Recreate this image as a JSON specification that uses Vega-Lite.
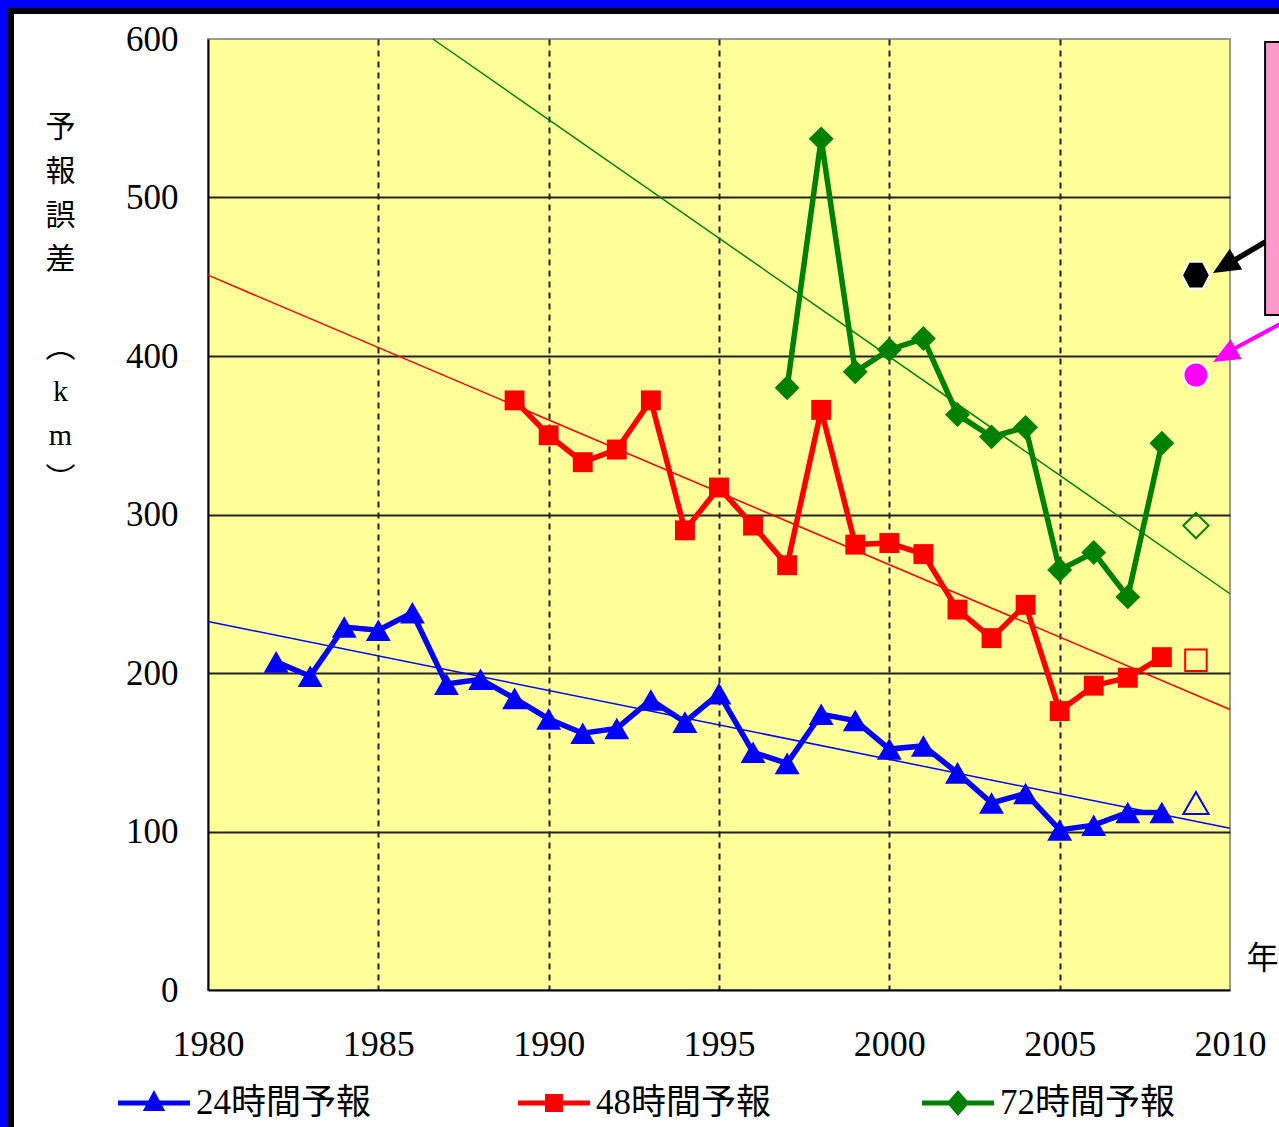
{
  "$schema": "https://vega.github.io/schema/vega-lite/v6.json",
  "width": 1022,
  "height": 951,
  "autosize": {"type": "none"},
  "padding": {"left": 208, "top": 39, "right": 49, "bottom": 137},
  "background": "white",
  "config": {
    "view": {"fill": "#FFFF99", "stroke": "#999999", "strokeWidth": 2},
    "legend": {
      "orient": "none",
      "legendY": 1028,
      "title": null,
      "padding": 0,
      "labelFont": "'Liberation Serif', 'Noto Sans CJK JP'",
      "labelFontSize": 35,
      "labelColor": "#000000",
      "labelOffset": 6,
      "labelLimit": 0,
      "symbolSize": 5184,
      "symbolStrokeWidth": 0,
      "symbolOpacity": 1
    }
  },
  "datasets": {
    "obs": [
      {"year": 1982, "value": 207, "series": "24時間予報"},
      {"year": 1983, "value": 198, "series": "24時間予報"},
      {"year": 1984, "value": 229, "series": "24時間予報"},
      {"year": 1985, "value": 227, "series": "24時間予報"},
      {"year": 1986, "value": 238, "series": "24時間予報"},
      {"year": 1987, "value": 193, "series": "24時間予報"},
      {"year": 1988, "value": 196, "series": "24時間予報"},
      {"year": 1989, "value": 184, "series": "24時間予報"},
      {"year": 1990, "value": 171, "series": "24時間予報"},
      {"year": 1991, "value": 162, "series": "24時間予報"},
      {"year": 1992, "value": 165, "series": "24時間予報"},
      {"year": 1993, "value": 183, "series": "24時間予報"},
      {"year": 1994, "value": 169, "series": "24時間予報"},
      {"year": 1995, "value": 187, "series": "24時間予報"},
      {"year": 1996, "value": 150, "series": "24時間予報"},
      {"year": 1997, "value": 143, "series": "24時間予報"},
      {"year": 1998, "value": 174, "series": "24時間予報"},
      {"year": 1999, "value": 170, "series": "24時間予報"},
      {"year": 2000, "value": 152, "series": "24時間予報"},
      {"year": 2001, "value": 154, "series": "24時間予報"},
      {"year": 2002, "value": 137, "series": "24時間予報"},
      {"year": 2003, "value": 118, "series": "24時間予報"},
      {"year": 2004, "value": 124, "series": "24時間予報"},
      {"year": 2005, "value": 101, "series": "24時間予報"},
      {"year": 2006, "value": 104, "series": "24時間予報"},
      {"year": 2007, "value": 112, "series": "24時間予報"},
      {"year": 2008, "value": 112, "series": "24時間予報"},
      {"year": 1989, "value": 372, "series": "48時間予報"},
      {"year": 1990, "value": 350, "series": "48時間予報"},
      {"year": 1991, "value": 333, "series": "48時間予報"},
      {"year": 1992, "value": 341, "series": "48時間予報"},
      {"year": 1993, "value": 372, "series": "48時間予報"},
      {"year": 1994, "value": 290, "series": "48時間予報"},
      {"year": 1995, "value": 317, "series": "48時間予報"},
      {"year": 1996, "value": 293, "series": "48時間予報"},
      {"year": 1997, "value": 268, "series": "48時間予報"},
      {"year": 1998, "value": 366, "series": "48時間予報"},
      {"year": 1999, "value": 281, "series": "48時間予報"},
      {"year": 2000, "value": 282, "series": "48時間予報"},
      {"year": 2001, "value": 275, "series": "48時間予報"},
      {"year": 2002, "value": 240, "series": "48時間予報"},
      {"year": 2003, "value": 222, "series": "48時間予報"},
      {"year": 2004, "value": 243, "series": "48時間予報"},
      {"year": 2005, "value": 176, "series": "48時間予報"},
      {"year": 2006, "value": 192, "series": "48時間予報"},
      {"year": 2007, "value": 197, "series": "48時間予報"},
      {"year": 2008, "value": 210, "series": "48時間予報"},
      {"year": 1997, "value": 380, "series": "72時間予報"},
      {"year": 1998, "value": 537, "series": "72時間予報"},
      {"year": 1999, "value": 390, "series": "72時間予報"},
      {"year": 2000, "value": 404, "series": "72時間予報"},
      {"year": 2001, "value": 411, "series": "72時間予報"},
      {"year": 2002, "value": 363, "series": "72時間予報"},
      {"year": 2003, "value": 349, "series": "72時間予報"},
      {"year": 2004, "value": 355, "series": "72時間予報"},
      {"year": 2005, "value": 265, "series": "72時間予報"},
      {"year": 2006, "value": 276, "series": "72時間予報"},
      {"year": 2007, "value": 248, "series": "72時間予報"},
      {"year": 2008, "value": 345, "series": "72時間予報"}
    ],
    "trend": [
      {"year": 1980, "value": 232.5, "series": "24時間予報"},
      {"year": 2010, "value": 102, "series": "24時間予報"},
      {"year": 1980, "value": 451, "series": "48時間予報"},
      {"year": 2010, "value": 177, "series": "48時間予報"},
      {"year": 1986.6, "value": 600, "series": "72時間予報"},
      {"year": 2010, "value": 250, "series": "72時間予報"}
    ],
    "next": [
      {"year": 2009, "value": 118, "series": "24時間予報"},
      {"year": 2009, "value": 208, "series": "48時間予報"},
      {"year": 2009, "value": 293, "series": "72時間予報"}
    ],
    "marks": [
      {"year": 2009, "value": 451, "kind": "hex"},
      {"year": 2009, "value": 388, "kind": "dot"}
    ],
    "one": [{"k": 1}]
  },
  "resolve": {"scale": {"color": "independent"}, "legend": {"color": "independent"}},
  "layer": [
    {
      "data": {"name": "one"},
      "mark": {"type": "rect", "fill": "transparent", "stroke": "#0000FF", "strokeWidth": 8, "clip": false},
      "encoding": {
        "x": {"datum": 1974.012, "type": "quantitative", "scale": {"domain": [1980, 2010], "nice": false, "zero": false}},
        "x2": {"datum": 2030},
        "y": {"datum": 622.1, "type": "quantitative", "scale": {"domain": [0, 600], "nice": false}},
        "y2": {"datum": -300}
      }
    },
    {
      "data": {"name": "one"},
      "mark": {"type": "rect", "fill": "transparent", "stroke": "#000000", "strokeWidth": 6, "clip": false},
      "encoding": {
        "x": {"datum": 1974.217, "type": "quantitative"},
        "x2": {"datum": 2030},
        "y": {"datum": 617.7, "type": "quantitative"},
        "y2": {"datum": -300}
      }
    },
    {
      "data": {"name": "trend"},
      "mark": {"type": "line", "strokeWidth": 1.5},
      "encoding": {
        "x": {
          "field": "year",
          "type": "quantitative",
          "scale": {"domain": [1980, 2010], "nice": false, "zero": false},
          "axis": {
            "values": [1980, 1985, 1990, 1995, 2000, 2005, 2010],
            "format": "d",
            "labelFont": "Liberation Serif",
            "labelFontSize": 36,
            "labelColor": "#000000",
            "labelPadding": 37,
            "labelFlush": false,
            "labelOverlap": false,
            "ticks": false,
            "tickSize": 0,
            "domainColor": "#000000",
            "domainWidth": 2,
            "grid": true,
            "gridColor": "#222222",
            "gridWidth": 2,
            "gridDash": [6, 5],
            "gridOpacity": {"condition": {"test": "datum.value == 1980 || datum.value == 2010", "value": 0}, "value": 1},
            "title": "年",
            "titleFont": "Noto Sans CJK JP",
            "titleFontSize": 32,
            "titleFontWeight": "normal",
            "titleColor": "#000000",
            "titleAngle": 0,
            "titleAlign": "center",
            "titleBaseline": "middle",
            "titleX": 1054,
            "titleY": -32
          }
        },
        "y": {
          "field": "value",
          "type": "quantitative",
          "scale": {"domain": [0, 600], "nice": false},
          "axis": {
            "values": [0, 100, 200, 300, 400, 500, 600],
            "labelFont": "Liberation Serif",
            "labelFontSize": 35,
            "labelColor": "#000000",
            "labelPadding": 30,
            "ticks": false,
            "tickSize": 0,
            "domainColor": "#000000",
            "domainWidth": 2,
            "grid": true,
            "gridColor": "#222222",
            "gridWidth": 2,
            "gridOpacity": {"condition": {"test": "datum.value == 0 || datum.value == 600", "value": 0}, "value": 1},
            "title": ["予", "報", "誤", "差", "⠀", "︵", "k", "m", "︶"],
            "titleFont": "'Liberation Serif', 'Noto Sans CJK JP'",
            "titleFontSize": 30,
            "titleFontWeight": "normal",
            "titleColor": "#000000",
            "titleAngle": 0,
            "titleAlign": "center",
            "titleBaseline": "top",
            "titleLineHeight": 44,
            "titleX": -148,
            "titleY": 73
          }
        },
        "color": {"field": "series", "type": "nominal", "scale": {"domain": ["24時間予報", "48時間予報", "72時間予報"], "range": ["#0000FF", "#FF0000", "#008000"]}, "legend": null}
      }
    },
    {
      "data": {"name": "obs"},
      "mark": {"type": "line", "strokeWidth": 5.5},
      "encoding": {
        "x": {"field": "year", "type": "quantitative"},
        "y": {"field": "value", "type": "quantitative"},
        "color": {"field": "series", "type": "nominal", "scale": {"domain": ["24時間予報", "48時間予報", "72時間予報"], "range": ["#0000FF", "#FF0000", "#008000"]}, "legend": null}
      }
    },
    {
      "data": {"name": "obs"},
      "transform": [{"filter": "datum.series === '24時間予報'"}],
      "mark": {"type": "point", "shape": "triangle-up", "filled": true, "opacity": 1, "size": 620, "strokeWidth": 0},
      "encoding": {
        "x": {"field": "year", "type": "quantitative"},
        "y": {"field": "value", "type": "quantitative"},
        "color": {"field": "series", "type": "nominal", "scale": {"domain": ["24時間予報"], "range": ["#0000FF"]}, "legend": {"legendX": -90, "symbolType": "M-1,-0.07H1V0.07H-1Z M0,-0.36L0.31,0.22H-0.31Z"}}
      }
    },
    {
      "data": {"name": "obs"},
      "transform": [{"filter": "datum.series === '48時間予報'"}],
      "mark": {"type": "point", "shape": "M-0.8,-0.8H0.8V0.8H-0.8Z", "filled": true, "opacity": 1, "size": 620, "strokeWidth": 0},
      "encoding": {
        "x": {"field": "year", "type": "quantitative"},
        "y": {"field": "value", "type": "quantitative"},
        "color": {"field": "series", "type": "nominal", "scale": {"domain": ["48時間予報"], "range": ["#FF0000"]}, "legend": {"legendX": 310, "symbolType": "M-1,-0.07H1V0.07H-1Z M-0.25,-0.25H0.25V0.25H-0.25Z"}}
      }
    },
    {
      "data": {"name": "obs"},
      "transform": [{"filter": "datum.series === '72時間予報'"}],
      "mark": {"type": "point", "shape": "diamond", "filled": true, "opacity": 1, "size": 620, "strokeWidth": 0},
      "encoding": {
        "x": {"field": "year", "type": "quantitative"},
        "y": {"field": "value", "type": "quantitative"},
        "color": {"field": "series", "type": "nominal", "scale": {"domain": ["72時間予報"], "range": ["#008000"]}, "legend": {"legendX": 714, "symbolType": "M-1,-0.07H1V0.07H-1Z M0,-0.36L0.31,0L0,0.36L-0.31,0Z"}}
      }
    },
    {
      "data": {"name": "next"},
      "mark": {"type": "point", "filled": false, "opacity": 1, "size": 640, "strokeWidth": 2},
      "encoding": {
        "x": {"field": "year", "type": "quantitative"},
        "y": {"field": "value", "type": "quantitative"},
        "color": {"field": "series", "type": "nominal", "scale": {"domain": ["24時間予報", "48時間予報", "72時間予報"], "range": ["#0000FF", "#FF0000", "#008000"]}, "legend": null},
        "shape": {"field": "series", "type": "nominal", "scale": {"domain": ["24時間予報", "48時間予報", "72時間予報"], "range": ["triangle-up", "M-0.85,-0.85H0.85V0.85H-0.85Z", "M0,-1L1,0L0,1L-1,0Z"]}, "legend": null}
      }
    },
    {
      "data": {"name": "one"},
      "mark": {"type": "rect", "fill": "#FF99CC", "stroke": "#000000", "strokeWidth": 2, "clip": false},
      "encoding": {
        "x": {"datum": 2011.03, "type": "quantitative"},
        "x2": {"datum": 2016},
        "y": {"datum": 598.1, "type": "quantitative"},
        "y2": {"datum": 425.9}
      }
    },
    {
      "data": {"name": "one"},
      "mark": {"type": "rule", "color": "#000000", "strokeWidth": 5.5, "clip": false},
      "encoding": {
        "x": {"datum": 2011.03, "type": "quantitative"},
        "y": {"datum": 471.9, "type": "quantitative"},
        "x2": {"datum": 2009.9},
        "y2": {"datum": 457.5}
      }
    },
    {
      "data": {"name": "one"},
      "mark": {"type": "rule", "color": "#FF00FF", "strokeWidth": 4, "clip": false},
      "encoding": {
        "x": {"datum": 2011.8, "type": "quantitative"},
        "y": {"datum": 424, "type": "quantitative"},
        "x2": {"datum": 2009.9},
        "y2": {"datum": 402}
      }
    },
    {
      "data": {"name": "one"},
      "mark": {"type": "point", "shape": "M0,0L2,-0.9L2,0.9Z", "filled": true, "color": "#000000", "opacity": 1, "size": 720, "angle": 329, "strokeWidth": 0, "clip": false},
      "encoding": {
        "x": {"datum": 2009.5, "type": "quantitative"},
        "y": {"datum": 452.4, "type": "quantitative"}
      }
    },
    {
      "data": {"name": "one"},
      "mark": {"type": "point", "shape": "M0,0L2,-0.85L2,0.85Z", "filled": true, "color": "#FF00FF", "opacity": 1, "size": 700, "angle": 331, "strokeWidth": 0, "clip": false},
      "encoding": {
        "x": {"datum": 2009.5, "type": "quantitative"},
        "y": {"datum": 396.2, "type": "quantitative"}
      }
    },
    {
      "data": {"name": "marks"},
      "transform": [{"filter": "datum.kind === 'hex'"}],
      "mark": {"type": "point", "shape": "M-1,0L-0.5,-0.95L0.5,-0.95L1,0L0.5,0.95L-0.5,0.95Z", "filled": true, "fill": "#000000", "stroke": "#FFFFFF", "strokeWidth": 2, "opacity": 1, "size": 784},
      "encoding": {
        "x": {"field": "year", "type": "quantitative"},
        "y": {"field": "value", "type": "quantitative"}
      }
    },
    {
      "data": {"name": "marks"},
      "transform": [{"filter": "datum.kind === 'dot'"}],
      "mark": {"type": "point", "shape": "circle", "filled": true, "fill": "#FF00FF", "stroke": "#FFFFFF", "strokeWidth": 2, "opacity": 1, "size": 625},
      "encoding": {
        "x": {"field": "year", "type": "quantitative"},
        "y": {"field": "value", "type": "quantitative"}
      }
    }
  ]
}
